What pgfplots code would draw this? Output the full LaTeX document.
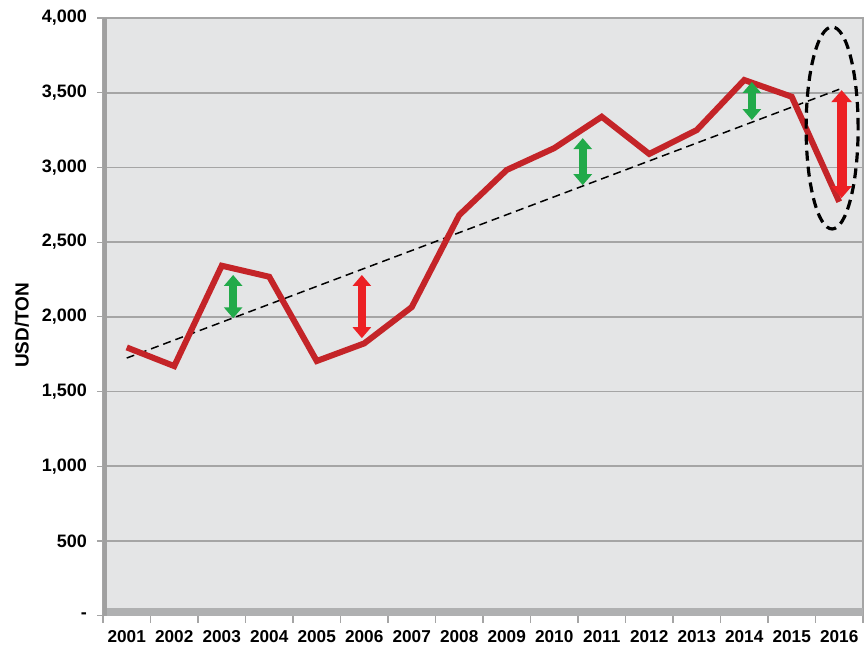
\documentclass[border=0pt]{standalone}
\usepackage{pgfplots}
\pgfplotsset{compat=1.18}
\usepackage{fontspec}
\setmainfont{Liberation Sans}
\usetikzlibrary{arrows.meta}
\definecolor{bgray}{RGB}{228,229,230}
\definecolor{gridc}{RGB}{165,165,165}
\definecolor{wallc}{RGB}{160,160,160}
\definecolor{floorc}{RGB}{175,176,177}
\definecolor{linered}{RGB}{196,36,40}
\definecolor{arrred}{RGB}{236,32,36}
\definecolor{arrgreen}{RGB}{34,170,74}
\pgfplotstableread{
x year price
0 2001 1795
1 2002 1670
2 2003 2342
3 2004 2268
4 2005 1704
5 2006 1822
6 2007 2065
7 2008 2681
8 2009 2983
9 2010 3129
10 2011 3339
11 2012 3090
12 2013 3250
13 2014 3585
14 2015 3473
15 2016 2770
}\pricetable
\begin{document}
\begin{tikzpicture}
\useasboundingbox (0,0) rectangle (432pt,322pt);
\begin{axis}[
  at={(51.5pt,14.2pt)}, anchor=south west,
  scale only axis, width=380pt, height=298.8pt,
  xmin=-0.5, xmax=15.5, ymin=0, ymax=4000,
  clip=false,
  axis background/.style={fill=bgray},
  axis line style={draw=gridc, line width=0.6pt},
  ymajorgrids, grid style={draw=gridc, line width=0.8pt},
  ytick={0,500,...,4000},
  yticklabels={-,500,{1,000},{1,500},{2,000},{2,500},{3,000},{3,500},{4,000}},
  xtick={0,...,15},
  xticklabels={2001,2002,2003,2004,2005,2006,2007,2008,2009,2010,2011,2012,2013,2014,2015,2016},
  minor xtick={-0.5,0.5,...,15.5},
  xtick pos=bottom, ytick pos=left,
  major x tick style={draw=none},
  minor x tick style={draw=gridc, line width=0.6pt},
  y tick style={draw=gridc, line width=0.6pt},
  tick align=outside,
  major tick length=3pt, minor tick length=3.5pt,
  yticklabel style={font=\bfseries\fontsize{9}{10}\selectfont, xshift=-1.5pt},
  xticklabel style={font=\bfseries\fontsize{8.6}{9}\selectfont, yshift=-1pt},
  ylabel={USD/TON},
  ylabel style={font=\bfseries\fontsize{9.5}{10}\selectfont, at={(axis description cs:-0.1066,0.486)}, anchor=center},
]
% 3D-like walls
\fill[floorc] (axis cs:-0.5,0) rectangle ([yshift=4pt]axis cs:15.5,0);
\draw[wallc, line width=2pt] ([xshift=1pt]axis cs:-0.5,0) -- ([xshift=1pt]axis cs:-0.5,4000);
% trend line
\addplot[black, line width=0.75pt, dash pattern=on 4pt off 2.5pt] coordinates {(0,1724) (15,3523)};
% price line
\addplot[linered, line width=3pt, line join=miter, miter limit=3] table[x=x, y=price] {\pricetable};
% arrows
\addplot[arrgreen, line width=4pt, {Triangle[width=9pt,length=5.5pt]}-{Triangle[width=9pt,length=5.5pt]}] coordinates {(2.24,1990) (2.24,2280)};
\addplot[arrred, line width=4pt, {Triangle[width=9pt,length=5.5pt]}-{Triangle[width=9pt,length=5.5pt]}] coordinates {(4.95,1857) (4.95,2280)};
\addplot[arrgreen, line width=4pt, {Triangle[width=9pt,length=5.5pt]}-{Triangle[width=9pt,length=5.5pt]}] coordinates {(9.6,2881) (9.6,3196)};
\addplot[arrgreen, line width=4pt, {Triangle[width=9pt,length=5.5pt]}-{Triangle[width=9pt,length=5.5pt]}] coordinates {(13.16,3317) (13.16,3572)};
\addplot[arrred, line width=5pt, {Triangle[width=10pt,length=6pt]}-{Triangle[width=10pt,length=6pt]}] coordinates {(15.05,2795) (15.05,3517)};
% dashed ellipse
\draw[black, line width=1.6pt, dash pattern=on 5pt off 3pt] (axis cs:14.85,3264) ellipse [x radius=13pt, y radius=50.5pt];
\end{axis}
\end{tikzpicture}
\end{document}
